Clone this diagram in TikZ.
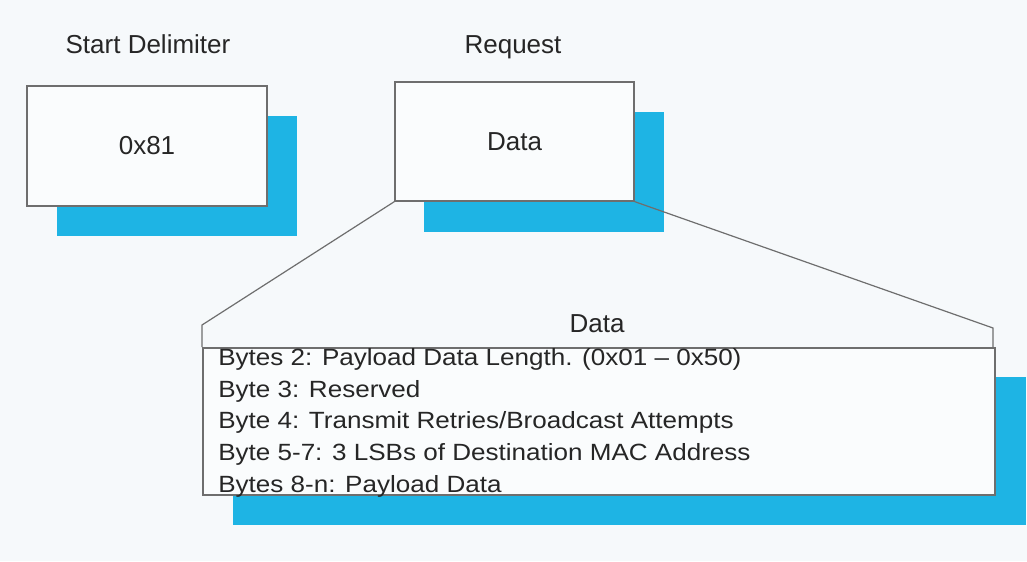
\documentclass[tikz,border=0pt]{standalone}
\usepackage{fontspec}
\setmainfont{Liberation Sans}
\usetikzlibrary{calc}
\definecolor{bgc}{HTML}{F6F9FB}
\definecolor{shblue}{HTML}{1EB4E4}
\definecolor{edgec}{HTML}{6E6E6E}
\definecolor{boxfill}{HTML}{FAFCFD}
\definecolor{txt}{HTML}{262626}
\tikzset{
  boxnode/.style={draw=edgec, line width=0.9pt, fill=boxfill, inner sep=0pt, text=txt, font=\fontsize{19.5pt}{23pt}\selectfont},
  shadowfill/.style={fill=shblue},
  label/.style={text=txt, font=\fontsize{19.5pt}{23pt}\selectfont, inner sep=0pt},
  itemtext/.style={text=txt, font=\fontsize{17.6pt}{21pt}\selectfont, inner sep=0pt, anchor=base west},
  conn/.style={draw=edgec, line width=0.9pt}
}
\newcommand{\wide}[1]{\scalebox{1.11}[1]{#1}}
\begin{document}
\begin{tikzpicture}[x=0.75pt, y=-0.75pt]
\useasboundingbox (0,0) rectangle (1027,561);
\fill[bgc] (0,0) rectangle (1027,561);

% box positions
\path (147,146) node[minimum width=180pt, minimum height=90pt] (sdpos) {};
\path (514.5,141.5) node[minimum width=179.25pt, minimum height=89.25pt] (rqpos) {};
\path (599,421.5) node[minimum width=594pt, minimum height=110.25pt] (dbpos) {};

% shadows
\fill[shadowfill] ($(sdpos.north west)+(30,30)$) rectangle ($(sdpos.south east)+(30,30)$);
\fill[shadowfill] ($(rqpos.north west)+(29,30)$) rectangle ($(rqpos.south east)+(30,31)$);
\fill[shadowfill] ($(dbpos.north west)+(30,29)$) rectangle ($(dbpos.south east)+(31,30)$);

% main boxes
\node[boxnode, minimum width=180pt, minimum height=90pt] (sd) at (147,146) {0x81};
\node[boxnode, minimum width=179.25pt, minimum height=89.25pt] (rq) at (514.5,141.5) {Data};
\node[boxnode, minimum width=594pt, minimum height=110.25pt] (db) at (599,421.5) {};

% labels
\node[label, anchor=base] (sdl) at (148,53) {Start Delimiter};
\node[label, anchor=base] (rql) at (513,53) {Request};
\node[label, anchor=base] (dbl) at (597,332) {Data};

% zoom connectors
\coordinate (hl) at (202,325);
\coordinate (hlb) at (202,347);
\coordinate (hr) at (993,328);
\coordinate (hrb) at (993,347);
\draw[conn] (rq.south west) -- (hl) -- (hlb);
\draw[conn] (rq.south east) -- (hr) -- (hrb);

% field lines
\node[itemtext] (l1) at (218,365) {\wide{Bytes 2: Payload Data Length. (0x01 \textendash{} 0x50)}};
\node[itemtext] (l2) at (218,397) {\wide{Byte 3: Reserved}};
\node[itemtext] (l3) at (218,428) {\wide{Byte 4: Transmit Retries/Broadcast Attempts}};
\node[itemtext] (l4) at (218,460) {\wide{Byte 5-7: 3 LSBs of Destination MAC Address}};
\node[itemtext] (l5) at (218,492) {\wide{Bytes 8-n: Payload Data}};
\end{tikzpicture}
\end{document}
